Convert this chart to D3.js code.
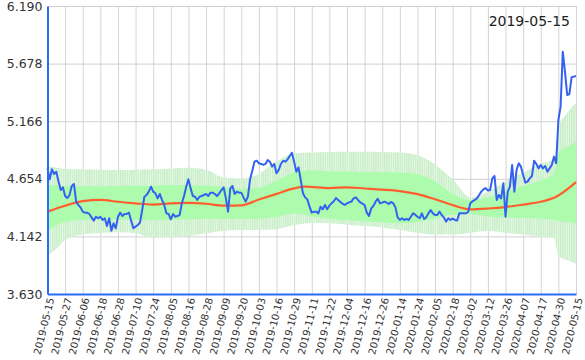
<!DOCTYPE html>
<html>
<head>
<meta charset="utf-8">
<script src="https://cdn.jsdelivr.net/npm/d3@7"></script>
<style>
  html, body { margin: 0; padding: 0; background: #fff; }
  svg { display: block; }
  text { font-family: "DejaVu Sans", Verdana, sans-serif; }
</style>
</head>
<body>
<svg id="chart" width="585" height="360"></svg>
<script>
// ---------- data ----------
const title = "2019-05-15";
const tickLabels = ["2019-05-15","2019-05-27","2019-06-06","2019-06-18","2019-06-28","2019-07-10","2019-07-24","2019-08-05","2019-08-16","2019-08-28","2019-09-09","2019-09-20","2019-10-03","2019-10-16","2019-10-29","2019-11-11","2019-11-22","2019-12-04","2019-12-16","2019-12-26","2020-01-14","2020-01-24","2020-02-05","2020-02-18","2020-03-02","2020-03-12","2020-03-26","2020-04-07","2020-04-17","2020-04-30","2020-05-15"];
const yTicks = [3.630, 4.142, 4.654, 5.166, 5.678, 6.190];

const price = [
4.747,4.649,4.738,4.697,4.717,4.629,4.554,4.578,4.501,4.483,
4.510,4.590,4.608,4.451,4.421,4.400,4.362,4.353,4.353,4.341,
4.311,4.282,4.317,4.303,4.317,4.288,4.303,4.234,4.303,4.193,
4.258,4.214,4.317,4.353,4.323,4.341,4.341,4.353,4.282,4.214,
4.229,4.243,4.264,4.377,4.495,4.510,4.540,4.584,4.540,4.525,
4.480,4.519,4.466,4.421,4.347,4.341,4.294,4.341,4.317,4.323,
4.332,4.436,4.501,4.584,4.649,4.569,4.501,4.495,4.466,4.495,
4.501,4.510,4.519,4.501,4.531,4.531,4.519,4.501,4.525,4.554,
4.578,4.480,4.362,4.569,4.590,4.519,4.540,4.531,4.531,4.489,
4.451,4.495,4.649,4.726,4.806,4.815,4.792,4.786,4.777,4.786,
4.821,4.806,4.762,4.786,4.703,4.732,4.786,4.815,4.806,4.827,
4.857,4.886,4.806,4.717,4.756,4.643,4.525,4.489,4.471,4.406,
4.353,4.362,4.362,4.347,4.406,4.383,4.421,4.383,4.415,4.436,
4.454,4.483,4.466,4.448,4.433,4.421,4.436,4.445,4.451,4.480,
4.489,4.466,4.445,4.433,4.421,4.353,4.323,4.391,4.412,4.451,
4.477,4.436,4.442,4.451,4.442,4.430,4.448,4.436,4.400,4.311,
4.288,4.303,4.288,4.297,4.288,4.317,4.347,4.335,4.317,4.303,
4.347,4.297,4.311,4.347,4.377,4.347,4.332,4.332,4.362,4.332,
4.311,4.273,4.303,4.288,4.300,4.288,4.282,4.347,4.347,4.347,
4.347,4.359,4.436,4.454,4.466,4.480,4.510,4.540,4.560,4.572,
4.549,4.554,4.658,4.679,4.466,4.510,4.480,4.614,4.317,4.540,
4.584,4.777,4.540,4.732,4.792,4.762,4.688,4.620,4.629,4.658,
4.679,4.815,4.786,4.747,4.777,4.747,4.768,4.717,4.747,4.777,
4.851,4.792,5.177,5.295,5.784,5.606,5.399,5.408,5.556,5.562,
5.568
];

const trendIdx = [0,8,16,24,32,40,48,56,64,72,80,88,96,104,112,117,128,136,144,152,160,168,176,184,192,200,208,216,224,231,240];
const trend    = [4.362,4.415,4.455,4.466,4.450,4.436,4.425,4.436,4.440,4.432,4.415,4.418,4.470,4.520,4.569,4.584,4.572,4.578,4.568,4.558,4.545,4.518,4.472,4.420,4.383,4.390,4.403,4.425,4.450,4.495,4.625];

const bandIdx = [0,4,8,16,24,32,40,48,56,64,72,80,88,96,104,112,120,128,136,144,152,160,168,176,184,192,200,208,216,224,230,232,236,240];
const outerHi = [4.768,4.755,4.742,4.738,4.735,4.732,4.735,4.738,4.745,4.752,4.735,4.665,4.655,4.700,4.810,4.880,4.888,4.893,4.895,4.895,4.893,4.888,4.865,4.780,4.650,4.490,4.540,4.630,4.710,4.790,4.830,5.100,5.240,5.330];
const outerLo = [3.977,4.030,4.110,4.160,4.172,4.178,4.170,4.130,4.140,4.145,4.169,4.193,4.199,4.199,4.205,4.243,4.262,4.258,4.246,4.234,4.222,4.199,4.175,4.158,4.158,4.175,4.190,4.175,4.158,4.140,4.130,3.970,3.930,3.900];
const innerHi = [4.599,4.595,4.590,4.588,4.588,4.590,4.592,4.593,4.598,4.600,4.595,4.580,4.565,4.575,4.640,4.710,4.730,4.722,4.718,4.715,4.712,4.710,4.695,4.630,4.520,4.466,4.490,4.540,4.590,4.640,4.700,4.880,4.940,4.980];
const innerLo = [4.199,4.240,4.270,4.288,4.290,4.292,4.290,4.285,4.290,4.295,4.298,4.300,4.298,4.300,4.315,4.345,4.320,4.300,4.285,4.275,4.265,4.258,4.270,4.300,4.335,4.340,4.320,4.310,4.305,4.300,4.290,4.280,4.270,4.260];

// ---------- layout ----------
const svg = d3.select("#chart");
const L = 47.5, R = 576, T = 6, B = 294;
const nLast = price.length - 1;
const x = d3.scaleLinear().domain([0, nLast]).range([L, R]);
const y = d3.scaleLinear().domain([yTicks[0], yTicks[yTicks.length-1]]).range([B, T]);
const tickIdx = tickLabels.map((d, i) => i * nLast / (tickLabels.length - 1));

// stripe pattern for outer band
const defs = svg.append("defs");
const pat = defs.append("pattern").attr("id", "stripes")
  .attr("patternUnits", "userSpaceOnUse").attr("width", 2.2).attr("height", 10)
  .attr("x", L);
pat.append("rect").attr("width", 2.2).attr("height", 10).attr("fill", "#e4f7e4");
pat.append("rect").attr("width", 1.3).attr("height", 10).attr("fill", "#c9eec9");

// grid
const gx = svg.append("g").attr("transform", `translate(0,${B})`)
  .call(d3.axisBottom(x).tickValues(tickIdx).tickSize(-(B - T)).tickFormat(""));
gx.select(".domain").remove();
gx.selectAll(".tick line").attr("stroke", "#d4d4d4").attr("stroke-width", 1);

const gy = svg.append("g").attr("transform", `translate(${L},0)`)
  .call(d3.axisLeft(y).tickValues(yTicks).tickSize(-(R - L)).tickFormat(""));
gy.select(".domain").remove();
gy.selectAll(".tick line").attr("stroke", "#d0d0d0").attr("stroke-width", 1);

// bands
const bandData = bandIdx.map((d, i) => ({i: d, oh: outerHi[i], ol: outerLo[i], ih: innerHi[i], il: innerLo[i]}));
svg.append("path").datum(bandData)
  .attr("fill", "url(#stripes)")
  .attr("d", d3.area().curve(d3.curveMonotoneX).x(d => x(d.i)).y0(d => y(d.ol)).y1(d => y(d.oh)));
svg.append("path").datum(bandData)
  .attr("fill", "#adfcad")
  .attr("d", d3.area().curve(d3.curveMonotoneX).x(d => x(d.i)).y0(d => y(d.il)).y1(d => y(d.ih)));

// trend line
svg.append("path").datum(trendIdx.map((d, i) => [d, trend[i]]))
  .attr("fill", "none").attr("stroke", "#ff5f2e").attr("stroke-width", 2.2)
  .attr("d", d3.line().curve(d3.curveMonotoneX).x(d => x(d[0])).y(d => y(d[1])));

// price line
svg.append("path").datum(price)
  .attr("fill", "none").attr("stroke", "#3462f0").attr("stroke-width", 2)
  .attr("stroke-linejoin", "round")
  .attr("d", d3.line().x((d, i) => x(i)).y(d => y(d)));

// axes
const ya = svg.append("g").attr("transform", `translate(${L},0)`)
  .call(d3.axisLeft(y).tickValues(yTicks).tickSize(0).tickPadding(5).tickFormat(d3.format(".3f")));
ya.select(".domain").attr("stroke", "#2b6cf6").attr("stroke-width", 2);
ya.selectAll("text").attr("font-size", 12.5).attr("fill", "#333")
  .attr("font-family", "DejaVu Sans, Verdana, sans-serif");

const xa = svg.append("g").attr("transform", `translate(0,${B})`)
  .call(d3.axisBottom(x).tickValues(tickIdx).tickSize(0).tickFormat((d, i) => tickLabels[i]));
xa.select(".domain").attr("stroke", "#2b6cf6").attr("stroke-width", 2);
xa.selectAll("text")
  .attr("font-size", 10).attr("fill", "#333")
  .attr("font-family", "DejaVu Sans, Verdana, sans-serif")
  .attr("text-anchor", "end")
  .attr("dy", "0.35em")
  .attr("transform", "translate(3,4) rotate(-76)")
  .attr("y", 0).attr("x", 0);

// title
svg.append("text").attr("x", 570).attr("y", 26).attr("text-anchor", "end")
  .attr("font-size", 14).attr("fill", "#222").text(title);
</script>
</body>
</html>
